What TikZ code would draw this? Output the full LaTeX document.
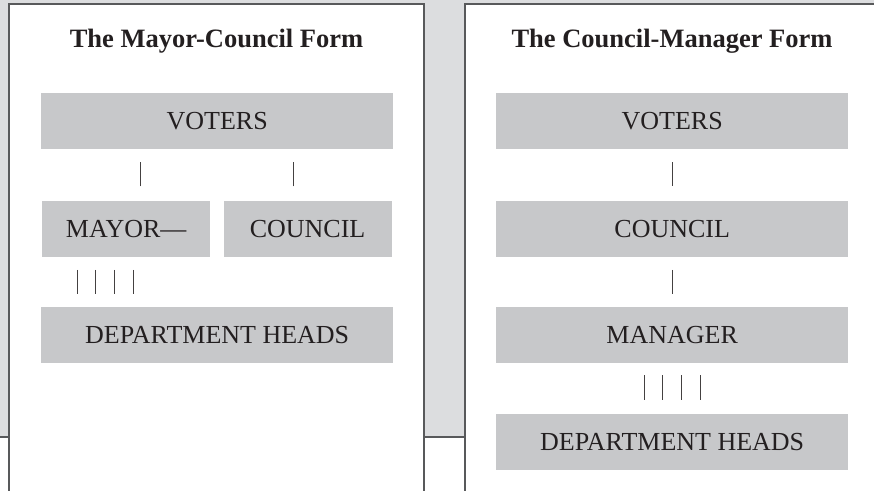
\documentclass[tikz,border=0pt]{standalone}
\usepackage{fontspec}
\setmainfont{Liberation Serif}
\usetikzlibrary{positioning}
\definecolor{bggray}{RGB}{220,221,223}
\definecolor{boxgray}{RGB}{199,200,202}
\definecolor{framegray}{RGB}{88,89,91}
\definecolor{inkblack}{RGB}{35,31,32}
\tikzstyle{orgbox} = [fill=boxgray, text=inkblack, minimum width=352pt,
   minimum height=56pt, inner sep=0pt, font=\fontsize{26}{30}\selectfont]
\tikzstyle{halfbox} = [orgbox, minimum width=168pt]
\tikzstyle{formtitle} = [text=inkblack, anchor=base,
   font=\fontsize{26.5}{30}\selectfont\bfseries]
\tikzstyle{bar} = [draw=inkblack!85, line width=1.1pt]
\tikzstyle{frame} = [draw=framegray, line width=1.5pt]

\begin{document}
\begin{tikzpicture}[x=1pt, y=-1pt]
  \useasboundingbox (0,0) rectangle (874,490);

  % backdrop and the two pages
  \fill[bggray] (0,0) rectangle (874,437);
  \draw[frame] (0,437) -- (874,437);
  \fill[white] (9,4) rectangle (424,492);
  \draw[frame] (9,492) -- (9,4) -- (424,4) -- (424,492);
  \fill[white] (465,4) rectangle (876,492);
  \draw[frame] (465,492) -- (465,4) -- (876,4);

  % left page
  \node[formtitle] (ltitle) at (216.5,47) {The Mayor-Council Form};
  \node[orgbox, anchor=north west] (lvoters) at (41,93) {VOTERS};
  \node[halfbox, anchor=north west] (mayor) at ([xshift=1pt,yshift=-51pt]lvoters.south west) {MAYOR---};
  \node[halfbox, right=13pt of mayor] (lcouncil) {COUNCIL};
  \node[orgbox, below=157pt of lvoters] (ldept) {DEPARTMENT HEADS};

  \draw[bar] ([xshift=14pt,yshift=14pt]mayor.north) -- ([xshift=14pt,yshift=38pt]mayor.north);
  \draw[bar] ([xshift=-14pt,yshift=14pt]lcouncil.north) -- ([xshift=-14pt,yshift=38pt]lcouncil.north);
  \foreach \dx in {-49,-30.3,-11.6,7.1}
    \draw[bar] ([xshift=\dx pt,yshift=-13pt]mayor.south) -- ([xshift=\dx pt,yshift=-37pt]mayor.south);

  % right page
  \node[formtitle] (rtitle) at (672,47) {The Council-Manager Form};
  \node[orgbox, anchor=north west] (rvoters) at (496,93) {VOTERS};
  \node[orgbox, below=51pt of rvoters] (rcouncil) {COUNCIL};
  \node[orgbox, below=50pt of rcouncil] (manager) {MANAGER};
  \node[orgbox, below=51pt of manager] (rdept) {DEPARTMENT HEADS};

  \draw[bar, shorten <=13pt, shorten >=14pt] (rvoters) -- (rcouncil);
  \draw[bar, shorten <=13pt, shorten >=13pt] (rcouncil) -- (manager);
  \foreach \dx in {-28.05,-9.35,9.35,28.05}
    \draw[bar] ([xshift=\dx pt,yshift=-12pt]manager.south) -- ([xshift=\dx pt,yshift=-37pt]manager.south);
\end{tikzpicture}
\end{document}
